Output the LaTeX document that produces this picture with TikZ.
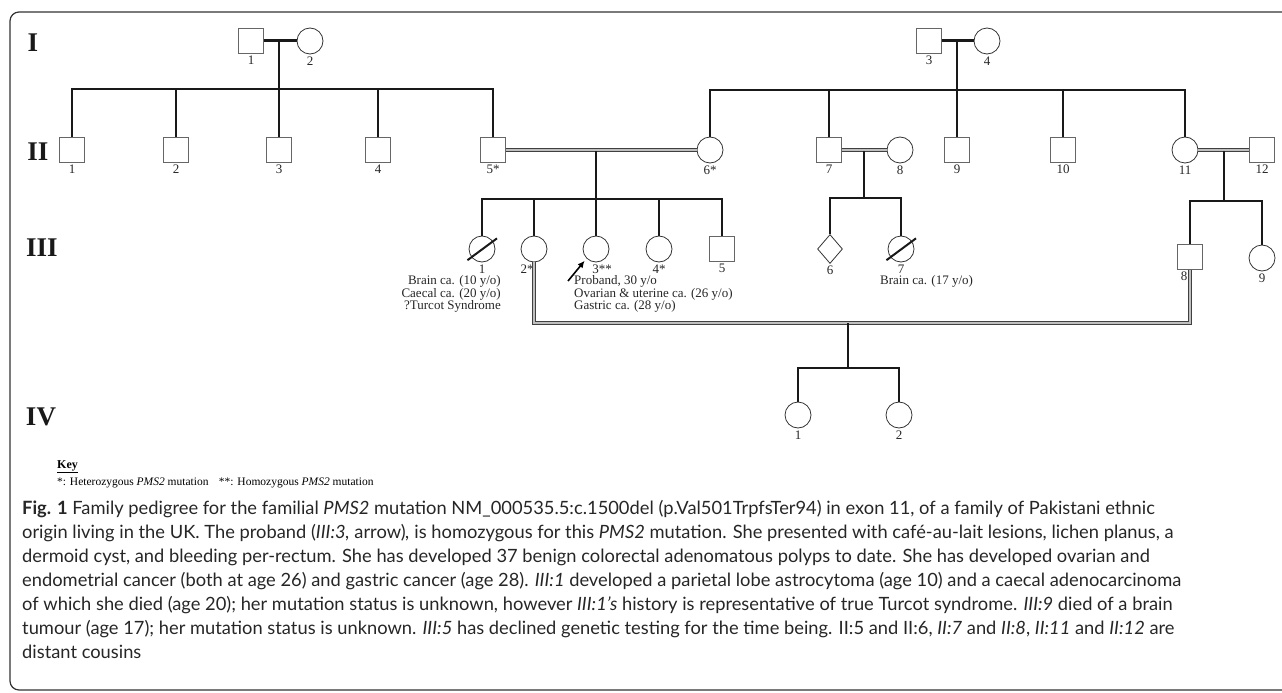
\documentclass[tikz,border=0pt]{standalone}
\usepackage{fontspec}
\setmainfont{Liberation Serif}
\newfontfamily\capfont{Lato}
\usetikzlibrary{arrows.meta,shapes.geometric}
\newcommand{\person}[5][]{\node[#2,label={[numlbl,#1]below:#5}] at (#3) (#4) {}}

\begin{document}
\begin{tikzpicture}[x=1pt,y=-1pt,label distance=2pt,
		male/.style={rectangle,draw=black!60,line width=1.1pt,minimum size=25pt,inner sep=0pt},
		female/.style={circle,draw=black!80,line width=0.8pt,minimum size=26pt,inner sep=0pt},
		unknown/.style={diamond,draw=black!80,line width=0.8pt,minimum width=25pt,minimum height=29pt,inner sep=0pt},
		numlbl/.style={font=\fontsize{13}{13}\selectfont,inner sep=0pt,text=black!85},
		gen/.style={font=\fontsize{27}{27}\selectfont\bfseries,text=black!90,inner sep=0pt},
		kin/.style={line width=2.8pt,black!90},
		mate/.style={line width=3pt,black!90},
		cons/.style={draw=black!75,double=black!25,line width=0.9pt,double distance=1.8pt},
		dead/.style={line width=2pt,black!90,shorten <=-5pt,shorten >=-5pt},
		note/.style={font=\fontsize{13}{11.5}\selectfont,inner sep=0pt,align=left,text=black!85}]
				\useasboundingbox (0,0) rectangle (1282,693);
				\draw[line width=1.2pt,black!80,rounded corners=9pt] (1282,12) -- (10,12) -- (10,690) -- (1282,690);
				
				\node[gen] (gI) at (33,43) {I};
				\node[gen] (gII) at (38,152) {II};
				\node[gen] (gIII) at (42,248) {III};
				\node[gen] (gIV) at (41,417) {IV};
				
				\person{male}{251,41}{I1}{1};
				\person{female}{310,41}{I2}{2};
				\person{male}{929,41}{I3}{3};
				\person{female}{987,41}{I4}{4};
				
				\person{male}{72,150}{II1}{1};
				\person{male}{176,150}{II2}{2};
				\person{male}{279,150}{II3}{3};
				\person{male}{378,150}{II4}{4};
				\person{male}{493,150}{II5}{5*};
				\person{female}{710,150}{II6}{6*};
				\person{male}{829,150}{II7}{7};
				\person{female}{900,150}{II8}{8};
				\person{male}{957,150}{II9}{9};
				\person{male}{1063,150}{II10}{10};
				\person{female}{1185,150}{II11}{11};
				\person{male}{1262,150}{II12}{12};
				
				\person{female}{482,249}{III1}{1};
				\person[xshift=-7pt]{female}{534,249}{III2}{2*};
				\person[xshift=6pt]{female}{596,249}{III3}{3**};
				\person{female}{659,249}{III4}{4*};
				\person{male}{722,249}{III5}{5};
				\person{unknown}{830,249}{III6}{6};
				\person{female}{901,249}{III7}{7};
				\person[xshift=-6pt]{male}{1190,257}{III8}{8};
				\person{female}{1262,258}{III9}{9};
				
				\person{female}{798,415}{IV1}{1};
				\person{female}{899,415}{IV2}{2};
				
				\draw[mate] (I1) -- (I2);
				\draw[mate] (I3) -- (I4);
				\draw[cons] (II5) -- (II6);
				\draw[cons] (II7) -- (II8);
				\draw[cons] (II11) -- (II12);
				
				\coordinate (m1) at (279,41);
				\coordinate (s1) at (279,89);
				\draw[kin] (m1) -- (s1);
				\foreach \k in {II1,II2,II3,II4,II5} \draw[kin] (\k) |- (s1);
				
				\coordinate (m2) at (957,41);
				\coordinate (s2) at (957,90);
				\draw[kin] (m2) -- (s2);
				\foreach \k in {II6,II7,II9,II10,II11} \draw[kin] (\k) |- (s2);
				
				\coordinate (m3) at (596,151);
				\coordinate (s3) at (596,199);
				\draw[kin] (m3) -- (s3);
				\foreach \k in {III1,III2,III3,III4,III5} \draw[kin] (\k) |- (s3);
				
				\coordinate (m4) at (864,151);
				\coordinate (s4) at (864,198);
				\draw[kin] (m4) -- (s4);
				\foreach \k in {III6,III7} \draw[kin] (\k) |- (s4);
				
				\coordinate (m5) at (1224,151);
				\coordinate (s5) at (1224,201);
				\draw[kin] (m5) -- (s5);
				\foreach \k in {III8,III9} \draw[kin] (\k) |- (s5);
				
				\coordinate (c1) at (534,323);
				\coordinate (c2) at (1190,323);
				\draw[cons] (III2) -- (c1) -- (c2) -- (III8);
				\coordinate (m6) at (848,323);
				\coordinate (s6) at (848,368);
				\draw[kin] (m6) -- (s6);
				\foreach \k in {IV1,IV2} \draw[kin] (\k) |- (s6);
				
				\draw[dead] (III1.218) -- (III1.35);
				\draw[dead] (III7.218) -- (III7.35);
				
				\coordinate (pa) at (568,281);
				\draw[-{Latex[length=7pt,width=6.5pt]},line width=1.6pt,shorten >=3pt] (pa) -- (III3.225);
				
				\node[note,anchor=north east,align=right] (t1) at (501,275) {Brain ca. (10 y/o)\\Caecal ca. (20 y/o)\\?Turcot Syndrome};
				\node[note,anchor=north west] (t3) at (574,275) {Proband, 30 y/o\\Ovarian \& uterine ca. (26 y/o)\\Gastric ca. (28 y/o)};
				\node[note,anchor=north west] (t7) at (880,275) {Brain ca. (17 y/o)};
				
				\node[font=\fontsize{12}{12}\selectfont\bfseries,anchor=west,inner sep=0pt] (key) at (57,467) {\underline{Key}};
				\node[font=\fontsize{11.5}{12}\selectfont,anchor=west,inner sep=0pt] (keytxt) at (57,483) {*: Heterozygous \textit{PMS2} mutation\hspace{0.9em}**: Homozygous \textit{PMS2} mutation};
				
				\node[font=\capfont\fontsize{18.3}{24}\selectfont,anchor=north west,align=left,inner sep=0pt,text=black!85] (cap) at (22,500) {\textbf{Fig. 1} Family pedigree for the familial \textit{PMS2} mutation NM\_000535.5:c.1500del (p.Val501TrpfsTer94) in exon 11, of a family of Pakistani ethnic\\
				origin living in the UK. The proband (\textit{III:3,} arrow)\textit{,} is homozygous for this \textit{PMS2} mutation. She presented with café-au-lait lesions, lichen planus, a\\
				dermoid cyst, and bleeding per-rectum. She has developed 37 benign colorectal adenomatous polyps to date. She has developed ovarian and\\
				endometrial cancer (both at age 26) and gastric cancer (age 28). \textit{III:1} developed a parietal lobe astrocytoma (age 10) and a caecal adenocarcinoma\\
				of which she died (age 20); her mutation status is unknown, however \textit{III:1’s} history is representative of true Turcot syndrome. \textit{III:9} died of a brain\\
				tumour (age 17); her mutation status is unknown. \textit{III:5} has declined genetic testing for the time being. II:5 and II:6, \textit{II:7} and \textit{II:8}, \textit{II:11} and \textit{II:12} are\\
				distant cousins};
				
				\end{tikzpicture}
\end{document}
